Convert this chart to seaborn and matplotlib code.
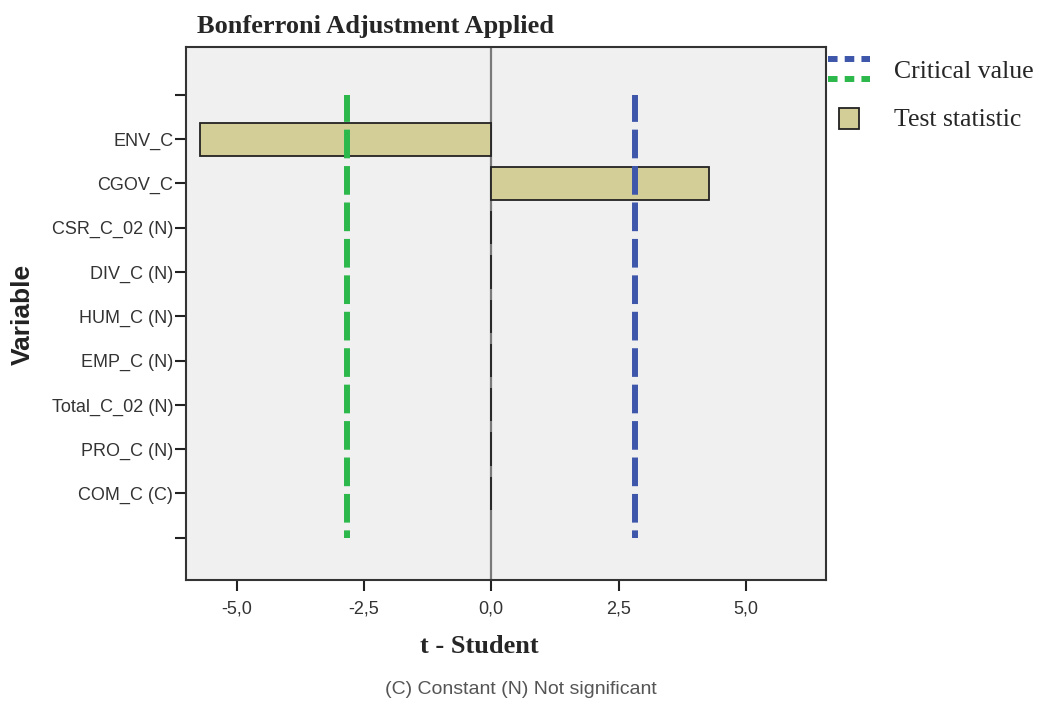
import matplotlib
matplotlib.use("Agg")
import matplotlib.pyplot as plt
import seaborn as sns
import pandas as pd
from matplotlib.lines import Line2D
from matplotlib.patches import Patch, Rectangle
from matplotlib.legend_handler import HandlerBase, HandlerPatch
from matplotlib.ticker import FuncFormatter

# data
variables = ["ENV_C", "CGOV_C", "CSR_C_02 (N)", "DIV_C (N)", "HUM_C (N)",
             "EMP_C (N)", "Total_C_02 (N)", "PRO_C (N)", "COM_C (C)"]
t_values = [-5.73, 4.27, 0, 0, 0, 0, 0, 0, 0]
crit_low = -2.83
crit_high = 2.83
x_ticks = [-5.0, -2.5, 0.0, 2.5, 5.0]

df = pd.DataFrame({"Variable": variables, "t": t_values})

sns.set_style("white")
plt.rcParams["font.family"] = ["Liberation Sans", "DejaVu Sans"]

fig = plt.figure(figsize=(10.44, 7.07), dpi=100)
ax = fig.add_axes([0.178, 0.18, 0.613, 0.7535])
ax.set_facecolor("#F0F0F0")

sns.barplot(data=df, x="t", y="Variable", orient="h", color="#D3CE97",
            edgecolor="#222222", linewidth=1.3, width=0.75, saturation=1, ax=ax)

# zero line
ax.axvline(0, color="#7a7a7a", lw=1.6, zorder=0.5)

# critical values, dashed
ax.vlines(crit_low, -1, 9, colors="#2DB84C", lw=4.3, linestyles=(0.3, (4.8, 1.3)), zorder=3)
ax.vlines(crit_high, -1, 9, colors="#3F57AA", lw=4.3, linestyles=(0.3, (4.8, 1.3)), zorder=3)

ax.set_xlim(-6, 6.57)
ax.set_ylim(9.95, -2.08)
ax.set_xticks(x_ticks)
ax.xaxis.set_major_formatter(FuncFormatter(lambda v, p: f"{v:.1f}".replace(".", ",")))
ax.set_yticks(range(-1, 10))
ax.set_yticklabels([""] + variables + [""])
ax.tick_params(axis="both", which="both", direction="out", length=8, width=1.5,
               color="#222222", labelsize=13, labelcolor="#333333", left=True, bottom=True, pad=1)
ax.tick_params(axis="x", pad=7)
for s in ax.spines.values():
    s.set_color("#333333")
    s.set_linewidth(1.5)

ax.set_xlabel("")
ax.set_ylabel("")
fig.text(0.0215, 0.555, "Variable", rotation=90, ha="center", va="center",
         fontsize=19, fontweight="bold", color="#222222")
fig.text(0.459, 0.085, "t - Student", ha="center", va="center",
         fontsize=19, fontweight="bold", family=["Liberation Serif"])
fig.text(0.189, 0.962, "Bonferroni Adjustment Applied", ha="left", va="center",
         fontsize=19, fontweight="bold", family=["Liberation Serif"])
fig.text(0.499, 0.025, "(C) Constant (N) Not significant", ha="center", va="center",
         fontsize=14, color="#555555")


class TwoLines(HandlerBase):
    def create_artists(self, legend, orig_handle, xdescent, ydescent, width, height, fontsize, trans):
        arts = []
        for i, col in enumerate(orig_handle):
            y = height * (1.0 - 1.0 * i) - ydescent
            ln = Line2D([-xdescent, -xdescent + width], [y, y], color=col, lw=4.3,
                        linestyle=(0.0, (1.6, 1.2)))
            ln.set_transform(trans)
            arts.append(ln)
        return arts


def small_box(legend, orig_handle, xdescent, ydescent, width, height, fontsize):
    w = width * 0.45
    return Rectangle((-xdescent + width * 0.28, -ydescent - height * 0.05), w, height * 1.0)


handles = [("#3F57AA", "#2DB84C"),
           Patch(facecolor="#D3CE97", edgecolor="#222222", linewidth=1.3)]
leg = fig.legend(handles, ["Critical value", "Test statistic"],
                 handler_map={tuple: TwoLines(), Patch: HandlerPatch(patch_func=small_box)},
                 loc="upper left", bbox_to_anchor=(0.7755, 0.942), frameon=False,
                 prop={"family": "Liberation Serif", "size": 18.5},
                 handlelength=1.65, handleheight=0.85, labelspacing=0.94, handletextpad=0.95,
                 borderpad=0.2)

fig.savefig("out.png", dpi=100, facecolor="white")
